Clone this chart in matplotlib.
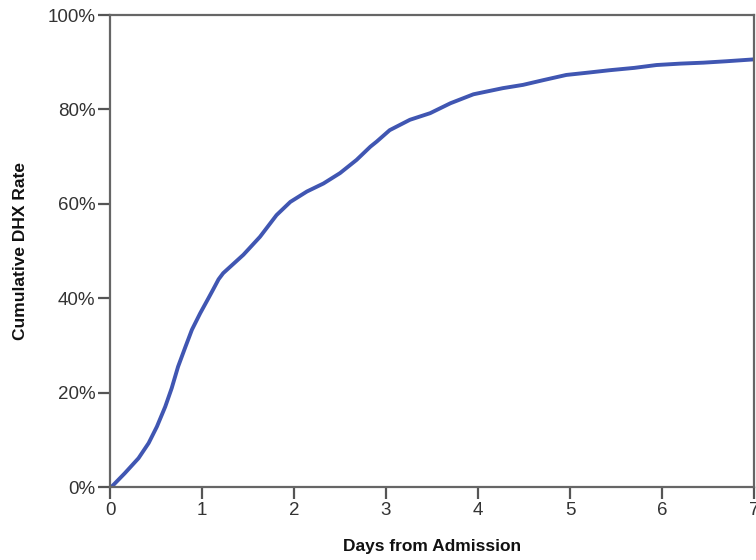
import matplotlib
matplotlib.use("Agg")
import matplotlib.pyplot as plt
from matplotlib.ticker import PercentFormatter

days = [0, 0.02, 0.16, 0.31, 0.42, 0.51, 0.60, 0.67, 0.74, 0.82, 0.89, 0.98, 1.07,
        1.12, 1.18, 1.23, 1.45, 1.63, 1.81, 1.96, 2.14, 2.32, 2.50, 2.68, 2.83, 2.90,
        3.04, 3.26, 3.48, 3.70, 3.95, 4.27, 4.49, 4.71, 4.96, 5.2, 5.43, 5.7,
        5.94, 6.2, 6.45, 6.7, 7.0]
rate = [0, 0.1, 2.9, 6.1, 9.3, 12.8, 17.0, 20.9, 25.5, 29.7, 33.3, 36.8, 40.0,
        41.8, 44.0, 45.3, 49.2, 53.0, 57.6, 60.4, 62.6, 64.3, 66.5, 69.3, 72.1, 73.2,
        75.6, 77.8, 79.2, 81.3, 83.2, 84.5, 85.2, 86.2, 87.3, 87.8, 88.3, 88.8,
        89.4, 89.7, 89.9, 90.2, 90.6]
x_ticks = [0, 1, 2, 3, 4, 5, 6, 7]
y_ticks = [0, 20, 40, 60, 80, 100]
x_label = "Days from Admission"
y_label = "Cumulative DHX Rate"

plt.rcParams['font.family'] = ['Liberation Sans', 'DejaVu Sans']

fig = plt.figure(figsize=(7.56, 5.6), dpi=100)
ax = fig.add_axes([110/756, 1-487/560, (754-110)/756, (487-15)/560])

ax.plot(days, rate, color='#4056b2', lw=2.8, solid_joinstyle='round',
        solid_capstyle='round', clip_on=True)

ax.set_xlim(0, 7)
ax.set_ylim(0, 100)
ax.set_xticks(x_ticks)
ax.set_yticks(y_ticks)
ax.yaxis.set_major_formatter(PercentFormatter(decimals=0))

for s in ax.spines.values():
    s.set_color('#666666')
    s.set_linewidth(1.6)
ax.tick_params(axis='both', length=8.5, width=1.6, color='#555555',
               labelsize=13.5, labelcolor='#333333', pad=2)

ax.set_xlabel(x_label, fontsize=12.5, fontweight='bold', color='#111111', labelpad=15)
ax.set_ylabel(y_label, fontsize=12.5, fontweight='bold', color='#111111', labelpad=14)

fig.savefig("out.png", dpi=100)
